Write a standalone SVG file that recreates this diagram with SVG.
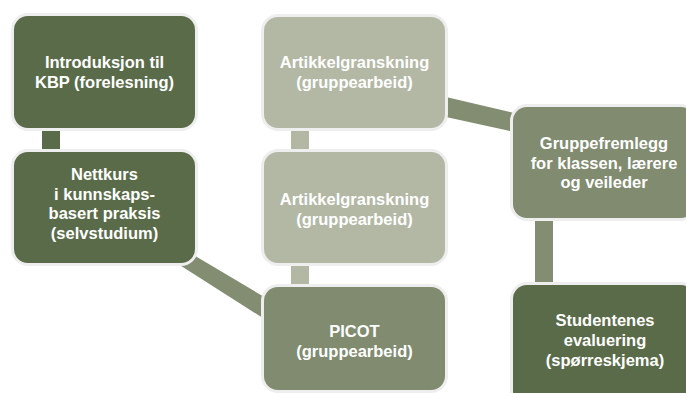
<svg xmlns="http://www.w3.org/2000/svg" width="686" height="393" viewBox="0 0 686 393">
  <style>
    .box { stroke: #eeeeee; stroke-width: 6; paint-order: stroke; }
    .dark { fill: #5a6b49; }
    .mid { fill: #808b6f; }
    .light { fill: #b3b8a5; }
    text { font-family: "Liberation Sans", Arial, sans-serif; font-weight: bold; font-size: 16.5px; fill: #ffffff; text-anchor: middle; }
  </style>
  <rect width="686" height="393" fill="#ffffff"/>
  <g id="connectors">
    <rect x="42" y="125" width="18" height="30" fill="#5a6b49"/>
    <rect x="291" y="125" width="18" height="30" fill="#b3b8a5"/>
    <rect x="291" y="260" width="18" height="30" fill="#b3b8a5"/>
    <rect x="535" y="215" width="18" height="72" fill="#838d72"/>
    <polygon points="175,244 266,298 266,320 175,262" fill="#838d72"/>
    <polygon points="446,97 514,113 514,132 446,117" fill="#838d72"/>
  </g>
  <g id="n1">
    <rect class="box dark" x="14" y="16" width="181" height="112" rx="14"/>
    <text x="104.5" y="68">Introduksjon til</text>
    <text x="104.5" y="88">KBP (forelesning)</text>
  </g>
  <g id="n2">
    <rect class="box dark" x="14" y="152" width="181" height="111" rx="14"/>
    <text x="104.5" y="180">Nettkurs</text>
    <text x="104.5" y="199.5">i kunnskaps-</text>
    <text x="104.5" y="219">basert praksis</text>
    <text x="104.5" y="238.5">(selvstudium)</text>
  </g>
  <g id="n3">
    <rect class="box light" x="264" y="17" width="181" height="111" rx="14"/>
    <text x="354.5" y="68">Artikkelgranskning</text>
    <text x="354.5" y="88">(gruppearbeid)</text>
  </g>
  <g id="n4">
    <rect class="box light" x="264" y="152" width="181" height="111" rx="14"/>
    <text x="354.5" y="205">Artikkelgranskning</text>
    <text x="354.5" y="225">(gruppearbeid)</text>
  </g>
  <g id="n5">
    <rect class="box mid" x="264" y="287" width="181" height="103" rx="14"/>
    <text x="354.5" y="337">PICOT</text>
    <text x="354.5" y="357">(gruppearbeid)</text>
  </g>
  <g id="n6">
    <rect class="box mid" x="513" y="107" width="182" height="111" rx="14"/>
    <text x="604" y="149">Gruppefremlegg</text>
    <text x="604" y="169">for klassen, lærere</text>
    <text x="604" y="188">og veileder</text>
  </g>
  <g id="n7">
    <rect class="box dark" x="513" y="285" width="182" height="120" rx="14"/>
    <text x="605" y="326">Studentenes</text>
    <text x="605" y="346">evaluering</text>
    <text x="605" y="366">(spørreskjema)</text>
  </g>
</svg>
